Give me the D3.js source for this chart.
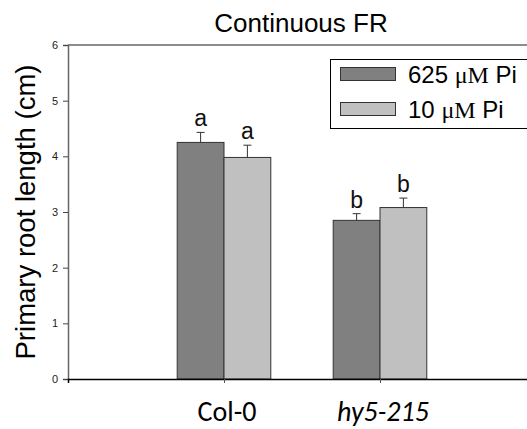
<!DOCTYPE html>
<html><head><meta charset="utf-8">
<script src="https://cdn.jsdelivr.net/npm/d3@7"></script>
<style>body{margin:0;background:#fff}svg{display:block}</style>
</head><body>
<script>
const categories = ["Col-0", "hy5-215"];
const seriesNames = ["625 \u03bcM Pi", "10 \u03bcM Pi"];
const valuesHigh = [4.25, 2.85];
const valuesLow = [3.98, 3.08];
const errHigh = [0.18, 0.12];
const errLow = [0.22, 0.17];
const lettersHigh = ["a", "b"];
const lettersLow = ["a", "b"];
const yTicks = [0, 1, 2, 3, 4, 5, 6];

const W = 527, H = 429;
const svg = d3.select("body").append("svg").attr("width", W).attr("height", H);
const x = d3.scaleLinear().domain([0, 3]).range([68, 536]);
const y = d3.scaleLinear().domain([0, 6]).range([379, 45]);
const bw = 0.3;
const colors = ["#808080", "#c0c0c0"];
const series = [
  {vals: valuesHigh, err: errHigh, let: lettersHigh, off: -bw},
  {vals: valuesLow, err: errLow, let: lettersLow, off: 0}
];

// frame top
svg.append("line").attr("x1", x(0)).attr("x2", W).attr("y1", y(6)).attr("y2", y(6)).attr("stroke", "#666").attr("stroke-width", 1.5);

series.forEach((s, si) => {
  categories.forEach((c, i) => {
    const cx = i + 1;
    svg.append("rect")
      .attr("x", x(cx + s.off)).attr("width", x(cx + s.off + bw) - x(cx + s.off))
      .attr("y", y(s.vals[i])).attr("height", y(0) - y(s.vals[i]))
      .attr("fill", colors[si]).attr("stroke", "#333").attr("stroke-width", 1);
    const ex = x(cx + s.off + bw / 2);
    const et = y(s.vals[i] + s.err[i]);
    svg.append("line").attr("x1", ex).attr("x2", ex).attr("y1", y(s.vals[i])).attr("y2", et).attr("stroke", "#333");
    svg.append("line").attr("x1", ex - 4).attr("x2", ex + 4).attr("y1", et).attr("y2", et).attr("stroke", "#333");
    svg.append("text").attr("x", ex).attr("y", et - 6).attr("text-anchor", "middle")
      .attr("font-family", "Liberation Sans, Arial, sans-serif").attr("font-size", 23).attr("fill", "#111").text(s.let[i]);
  });
});

// y axis
const yAxis = d3.axisLeft(y).tickValues(yTicks).tickSize(5).tickPadding(5).tickFormat(d3.format("d"));
const gy = svg.append("g").attr("transform", `translate(${x(0)},0)`).call(yAxis);
gy.select(".domain").attr("stroke", "#666").attr("stroke-width", 1.5);
gy.selectAll(".tick line").attr("stroke", "#444");
gy.selectAll("text").attr("font-family", "Liberation Sans, Arial, sans-serif").attr("font-size", 11).attr("fill", "#222");

// x axis
const xAxis = d3.axisBottom(x).tickValues([1, 2]).tickSize(4).tickFormat("");
const gx = svg.append("g").attr("transform", `translate(0,${y(0)})`).call(xAxis);
gx.select(".domain").attr("stroke", "#000").attr("stroke-width", 1.5);
gx.selectAll(".tick line").attr("stroke", "#555");
categories.forEach((c, i) => {
  svg.append("text").attr("x", x(i + 1) + 3).attr("y", 421).attr("text-anchor", "middle")
    .attr("font-family", "Carlito, Calibri, Lato, sans-serif").attr("font-size", 28)
    .attr("font-style", i === 1 ? "italic" : "normal").attr("fill", "#000").text(c);
});

// title
svg.append("text").attr("x", 301).attr("y", 32).attr("text-anchor", "middle")
  .attr("font-family", "Liberation Sans, Arial, sans-serif").attr("font-size", 26).attr("fill", "#000").text("Continuous FR");

// y label
svg.append("text").attr("transform", `translate(35,${(y(0) + y(6)) / 2}) rotate(-90)`).attr("text-anchor", "middle")
  .attr("font-family", "Liberation Sans, Arial, sans-serif").attr("font-size", 27.5).attr("fill", "#000").text("Primary root length (cm)");

// legend
const lg = svg.append("g");
lg.append("rect").attr("x", 330.5).attr("y", 59.5).attr("width", 220).attr("height", 69).attr("fill", "#fff").attr("stroke", "#000").attr("stroke-width", 1);
seriesNames.forEach((n, i) => {
  const ly = 67 + i * 35;
  lg.append("rect").attr("x", 340.5).attr("y", ly + 0.5).attr("width", 55).attr("height", 13).attr("fill", colors[i]).attr("stroke", "#333");
  const parts = n.split("\u03bcM");
  const t = lg.append("text").attr("x", 408).attr("y", ly + 16).attr("font-family", "Liberation Sans, Arial, sans-serif").attr("font-size", 24).attr("fill", "#000");
  t.append("tspan").text(parts[0]);
  t.append("tspan").attr("font-family", "Liberation Serif, Times New Roman, serif").text("\u03bcM");
  t.append("tspan").text(parts[1]);
});
</script>
</body></html>
